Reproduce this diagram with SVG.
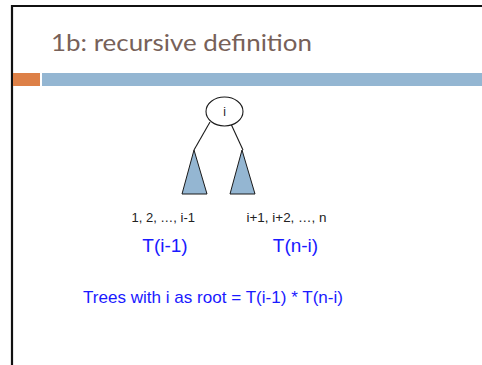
<svg xmlns="http://www.w3.org/2000/svg" width="482" height="365" viewBox="0 0 482 365">
  <style>
    .title { font-family: Lato, "DejaVu Sans", sans-serif; font-size: 23px; fill: #776159; }
    .label { font-family: "Liberation Sans", Arial, sans-serif; font-size: 12px; fill: #222222; }
    .count { font-family: "Liberation Sans", Arial, sans-serif; font-size: 19px; fill: #1a1aff; }
    .formula { font-family: "Liberation Sans", Arial, sans-serif; font-size: 17px; fill: #1a1aff; }
    .edge { stroke: #1a1a1a; stroke-width: 1.1; fill: none; }
    .subtree { fill: #94b6d2; stroke: #1a1a1a; stroke-width: 1; }
    .root { fill: #ffffff; stroke: #1a1a1a; stroke-width: 1.1; }
  </style>

  <rect x="0" y="0" width="482" height="365" fill="#ffffff"/>

  <!-- slide frame -->
  <path d="M12 366 V6 H483" fill="none" stroke="#111111" stroke-width="2.2"/>

  <!-- title and header bars -->
  <text class="title" x="51" y="51" textLength="261" lengthAdjust="spacingAndGlyphs">1b: recursive definition</text>
  <rect x="13" y="73" width="27" height="13" fill="#dd8047"/>
  <rect x="42" y="73" width="441" height="13" fill="#94b6d2"/>

  <!-- connectors -->
  <g id="connectors">
    <line class="edge" x1="210" y1="122" x2="194" y2="150"/>
    <line class="edge" x1="231" y1="124" x2="243" y2="150"/>
  </g>

  <!-- root node -->
  <g id="root">
    <ellipse class="root" cx="224.5" cy="111.5" rx="18.5" ry="14.5"/>
    <text class="label" x="224.5" y="115.5" text-anchor="middle">i</text>
  </g>

  <!-- left subtree -->
  <g id="left-subtree">
    <polygon class="subtree" points="194,150 182,194 207,194"/>
    <text class="label" x="131.5" y="221.5" textLength="63.5" lengthAdjust="spacingAndGlyphs">1, 2, …, i-1</text>
    <text class="count" x="165" y="252" text-anchor="middle">T(i-1)</text>
  </g>

  <!-- right subtree -->
  <g id="right-subtree">
    <polygon class="subtree" points="242,150 230,194 255,194"/>
    <text class="label" x="246.5" y="221.5" textLength="80" lengthAdjust="spacingAndGlyphs">i+1, i+2, …, n</text>
    <text class="count" x="295.5" y="252" text-anchor="middle">T(n-i)</text>
  </g>

  <!-- result -->
  <g id="formula">
    <text class="formula" x="83" y="303" textLength="260" lengthAdjust="spacingAndGlyphs">Trees with i as root = T(i-1) * T(n-i)</text>
  </g>
</svg>
